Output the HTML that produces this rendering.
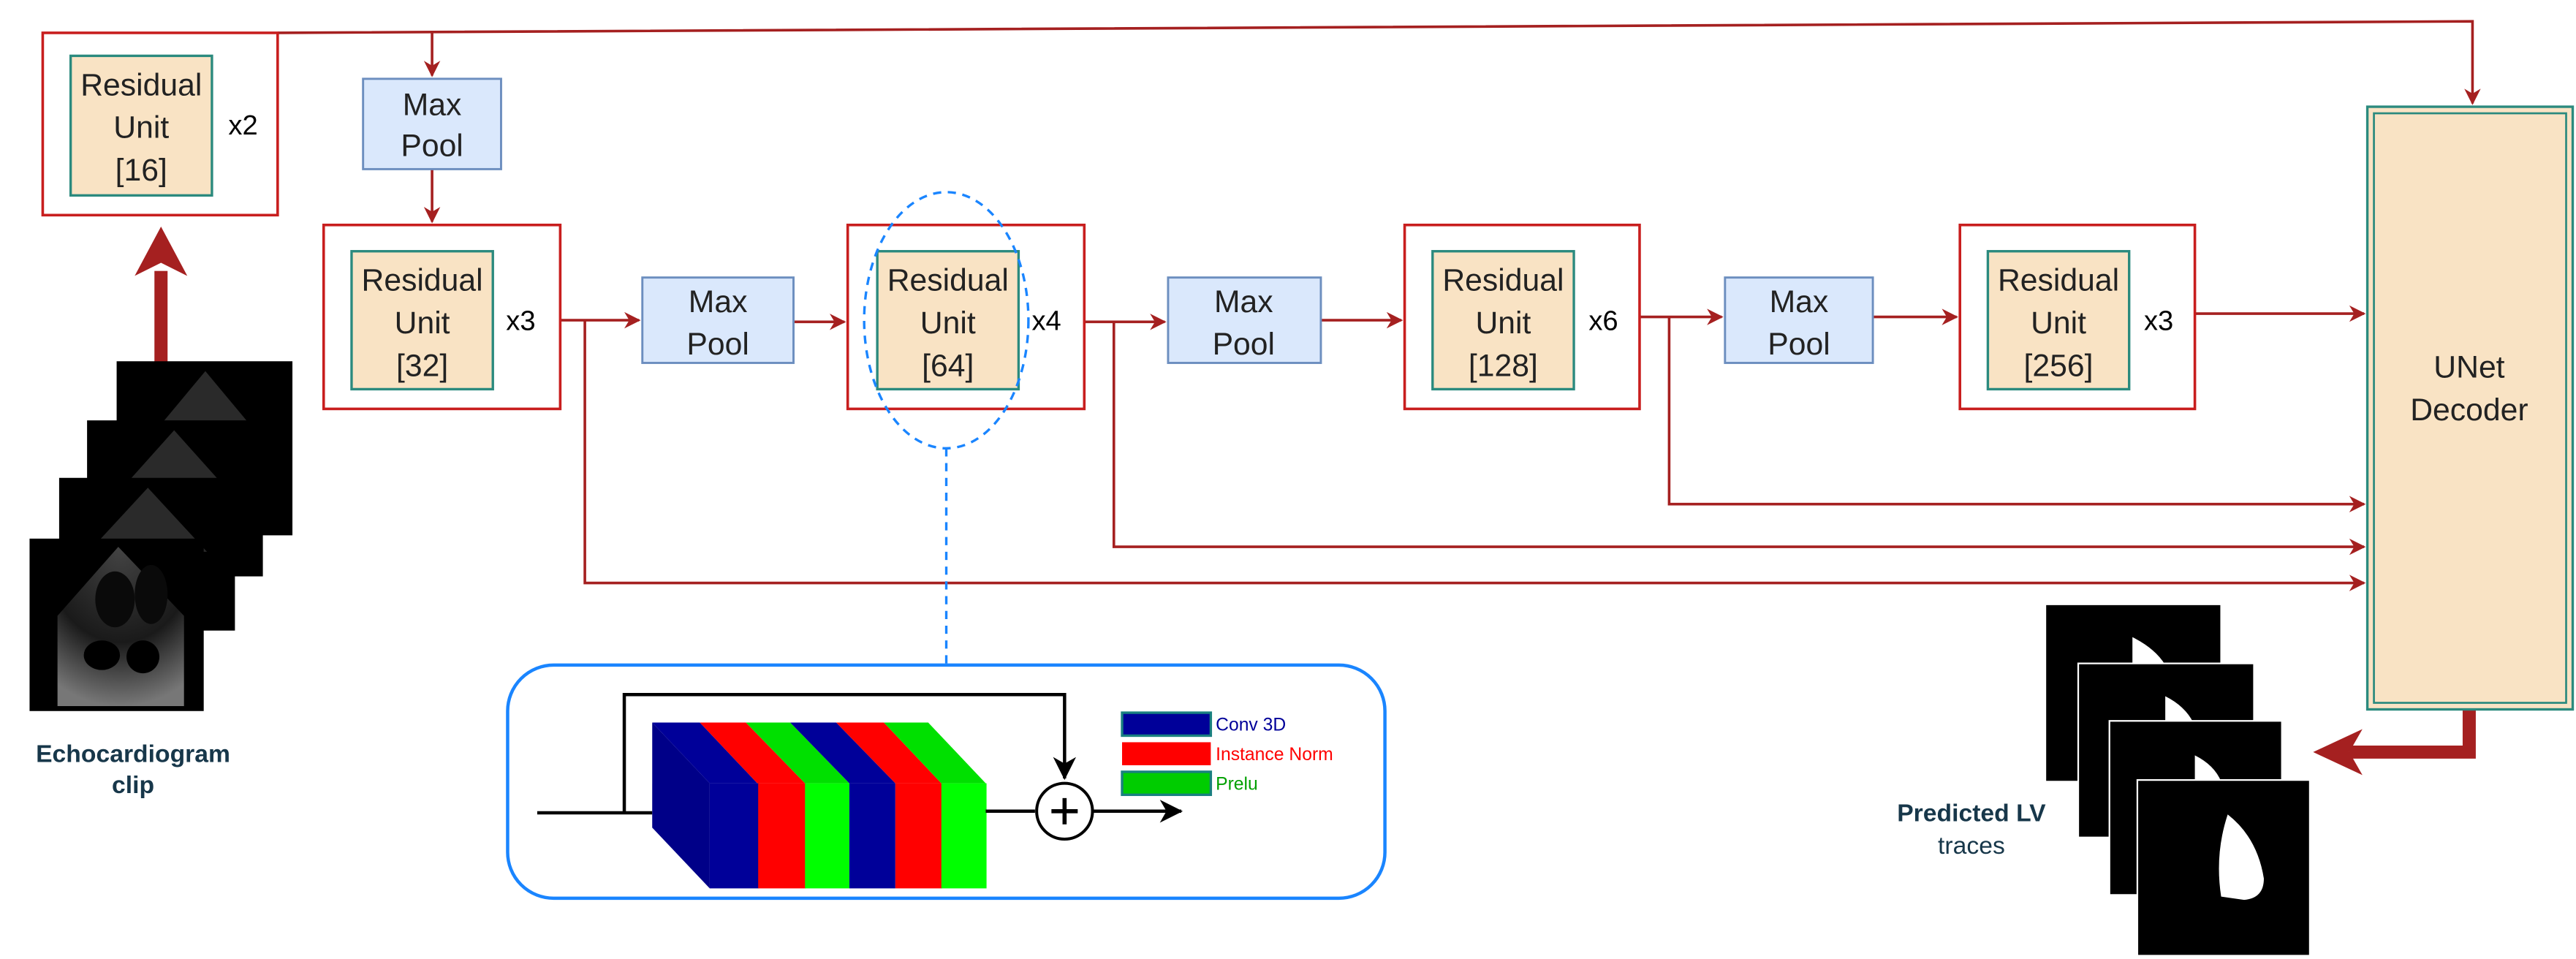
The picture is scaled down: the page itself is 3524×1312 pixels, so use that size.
<!DOCTYPE html>
<html><head><meta charset="utf-8"><style>
html,body{margin:0;padding:0;background:#fff;}
svg{display:block;}
text{font-family:"Liberation Sans",sans-serif;}
</style></head><body>
<svg width="3524" height="1312" viewBox="0 0 1568 584" preserveAspectRatio="none" xmlns="http://www.w3.org/2000/svg">
<defs>
<marker id="ar" markerWidth="10" markerHeight="10" refX="9" refY="5" orient="auto" markerUnits="userSpaceOnUse"><path d="M0,0 L10,5 L0,10 L3,5 Z" fill="#a52020"/></marker>
<marker id="ak" markerWidth="14" markerHeight="14" refX="13" refY="7" orient="auto" markerUnits="userSpaceOnUse"><path d="M0,0 L14,7 L0,14 L4,7 Z" fill="#000"/></marker>
<radialGradient id="fan" cx="0.5" cy="0" r="1"><stop offset="0" stop-color="#444"/><stop offset="0.6" stop-color="#1a1a1a"/><stop offset="1" stop-color="#777"/></radialGradient>
</defs>
<g stroke="#a52020" stroke-width="1.6" fill="none">
<polyline points="169,20 1505,13 1505,63" marker-end="url(#ar)"/>
<polyline points="263,20 263,46" marker-end="url(#ar)"/>
<polyline points="263,103 263,135" marker-end="url(#ar)"/>
<polyline points="341,195 389,195" marker-end="url(#ar)"/>
<polyline points="356,195 356,355 1439,355" marker-end="url(#ar)"/>
<polyline points="483,196 514,196" marker-end="url(#ar)"/>
<polyline points="660,196 709,196" marker-end="url(#ar)"/>
<polyline points="678,196 678,333 1439,333" marker-end="url(#ar)"/>
<polyline points="804,195 853,195" marker-end="url(#ar)"/>
<polyline points="998,193 1048,193" marker-end="url(#ar)"/>
<polyline points="1016,193 1016,307 1439,307" marker-end="url(#ar)"/>
<polyline points="1140,193 1191,193" marker-end="url(#ar)"/>
<polyline points="1336,191 1439,191" marker-end="url(#ar)"/>
</g>
<rect x="94" y="165" width="8" height="56" fill="#a52020"/>
<path d="M82,168 L98,138 L114,168 L98,160 Z" fill="#a52020"/>
<polyline points="1503,432 1503,458 1430,458" stroke="#a52020" stroke-width="8" fill="none"/>
<path d="M1438,444 L1408,458 L1438,472 L1430,458 Z" fill="#a52020"/>
<g fill="none" stroke="#c81e1e" stroke-width="1.6">
<rect x="26" y="20" width="143" height="111"/>
<rect x="197" y="137" width="144" height="112"/>
<rect x="516" y="137" width="144" height="112"/>
<rect x="855" y="137" width="143" height="112"/>
<rect x="1193" y="137" width="143" height="112"/>
</g>
<g fill="#f9e3c4" stroke="#2b8a7e" stroke-width="1.5">
<rect x="43" y="34" width="86" height="85"/>
<rect x="214" y="153" width="86" height="84"/>
<rect x="534" y="153" width="86" height="84"/>
<rect x="872" y="153" width="86" height="84"/>
<rect x="1210" y="153" width="86" height="84"/>
</g>
<g font-size="19" fill="#222" text-anchor="middle">
<text x="86" y="58">Residual</text><text x="86" y="84">Unit</text><text x="86" y="110">[16]</text>
<text x="257" y="177">Residual</text><text x="257" y="203">Unit</text><text x="257" y="229">[32]</text>
<text x="577" y="177">Residual</text><text x="577" y="203">Unit</text><text x="577" y="229">[64]</text>
<text x="915" y="177">Residual</text><text x="915" y="203">Unit</text><text x="915" y="229">[128]</text>
<text x="1253" y="177">Residual</text><text x="1253" y="203">Unit</text><text x="1253" y="229">[256]</text>
</g>
<g font-size="17" fill="#000" text-anchor="middle">
<text x="148" y="82">x2</text><text x="317" y="201">x3</text><text x="637" y="201">x4</text><text x="976" y="201">x6</text><text x="1314" y="201">x3</text>
</g>
<g fill="#dae8fc" stroke="#6c8ebf" stroke-width="1.3">
<rect x="221" y="48" width="84" height="55"/>
<rect x="391" y="169" width="92" height="52"/>
<rect x="711" y="169" width="93" height="52"/>
<rect x="1050" y="169" width="90" height="52"/>
</g>
<g font-size="19" fill="#222" text-anchor="middle">
<text x="263" y="70">Max</text><text x="263" y="95">Pool</text>
<text x="437" y="190">Max</text><text x="437" y="216">Pool</text>
<text x="757" y="190">Max</text><text x="757" y="216">Pool</text>
<text x="1095" y="190">Max</text><text x="1095" y="216">Pool</text>
</g>
<rect x="1441" y="65" width="125" height="367" fill="#f9e3c4" stroke="#2b8a7e" stroke-width="1.5"/>
<rect x="1445" y="69" width="117" height="359" fill="none" stroke="#2b8a7e" stroke-width="1.2"/>
<text x="1503" y="230" font-size="19" fill="#222" text-anchor="middle">UNet</text>
<text x="1503" y="256" font-size="19" fill="#222" text-anchor="middle">Decoder</text>
<ellipse cx="576" cy="195" rx="50" ry="78" fill="none" stroke="#1a85ff" stroke-width="1.5" stroke-dasharray="5,4"/>
<line x1="576" y1="273" x2="576" y2="405" stroke="#1a85ff" stroke-width="1.5" stroke-dasharray="5,4"/>
<rect x="309" y="405" width="534" height="142" rx="28" fill="#fff" stroke="#1a85ff" stroke-width="2"/>
<polyline points="327,495 397,495" stroke="#000" stroke-width="2" fill="none"/>
<polyline points="380,495 380,423 648,423 648,474" stroke="#000" stroke-width="2" fill="none" marker-end="url(#ak)"/>
<path d="M397,440 L432,477 L432,541 L397,504 Z" fill="#000088"/>
<path d="M397,440 L426,440 L461,477 L432,477 Z" fill="#000099"/>
<path d="M426,440 L454,440 L490,477 L461,477 Z" fill="#f00"/>
<path d="M454,440 L481,440 L517,477 L490,477 Z" fill="#00e000"/>
<path d="M481,440 L509,440 L545,477 L517,477 Z" fill="#000099"/>
<path d="M509,440 L538,440 L573,477 L545,477 Z" fill="#f00"/>
<path d="M538,440 L565,440 L600,477 L573,477 Z" fill="#00e000"/>
<rect x="432" y="477" width="30" height="64" fill="#000099"/>
<rect x="461.5" y="477" width="29" height="64" fill="#f00"/>
<rect x="490" y="477" width="27" height="64" fill="#00ff00"/>
<rect x="517" y="477" width="28" height="64" fill="#000099"/>
<rect x="545" y="477" width="28.5" height="64" fill="#f00"/>
<rect x="573" y="477" width="27.5" height="64" fill="#00ff00"/>
<line x1="600" y1="494" x2="630" y2="494" stroke="#000" stroke-width="2"/>
<circle cx="648" cy="494" r="17" fill="#fff" stroke="#000" stroke-width="1.8"/>
<line x1="640" y1="494" x2="656" y2="494" stroke="#000" stroke-width="2.5"/>
<line x1="648" y1="486" x2="648" y2="502" stroke="#000" stroke-width="2.5"/>
<line x1="665" y1="494" x2="719" y2="494" stroke="#000" stroke-width="2" marker-end="url(#ak)"/>
<rect x="683" y="434" width="54" height="14" fill="#000099" stroke="#1a8080" stroke-width="1.5"/>
<rect x="683" y="452" width="54" height="14" fill="#f00"/>
<rect x="683" y="470" width="54" height="14" fill="#00cc00" stroke="#1a8080" stroke-width="1.5"/>
<text x="740" y="445" font-size="11" fill="#000099">Conv 3D</text>
<text x="740" y="463" font-size="11" fill="#f00">Instance Norm</text>
<text x="740" y="481" font-size="11" fill="#00a000">Prelu</text>
<g>
<rect x="71" y="220" width="107" height="106" fill="#000"/>
<path d="M125,226 L95,262 L155,262 Z" fill="#2a2a2a"/>
<rect x="53" y="256" width="107" height="95" fill="#000"/>
<path d="M106,262 L72,300 L140,300 Z" fill="#2a2a2a"/>
<rect x="36" y="291" width="107" height="93" fill="#000"/>
<path d="M90,297 L54,336 L126,336 Z" fill="#2a2a2a"/>
<rect x="18" y="328" width="106" height="105" fill="#000"/>
<path d="M72,333 L35,375 L35,430 L112,430 L112,375 Z" fill="url(#fan)"/>
<ellipse cx="62" cy="399" rx="11" ry="9" fill="#000"/>
<ellipse cx="87" cy="400" rx="10" ry="10" fill="#000"/>
<ellipse cx="70" cy="365" rx="12" ry="17" fill="#0a0a0a"/>
<ellipse cx="92" cy="362" rx="10" ry="18" fill="#0a0a0a"/>
</g>
<text x="81" y="464" font-size="15" font-weight="bold" fill="#17374a" text-anchor="middle">Echocardiogram</text>
<text x="81" y="483" font-size="15" font-weight="bold" fill="#17374a" text-anchor="middle">clip</text>
<g stroke="#fff" stroke-width="1">
<rect x="1245" y="368" width="107" height="108" fill="#000"/>
<path d="M1298,388 Q1312,395 1318,405 L1298,405 Z" fill="#fff" stroke="none"/>
<rect x="1265" y="404" width="107" height="106" fill="#000"/>
<path d="M1318,424 Q1330,430 1335,440 L1318,440 Z" fill="#fff" stroke="none"/>
<rect x="1284" y="439" width="105" height="106" fill="#000"/>
<path d="M1336,460 Q1348,466 1352,476 L1336,476 Z" fill="#fff" stroke="none"/>
<rect x="1301" y="475" width="105" height="107" fill="#000"/>
<path d="M1356,496 Q1374,510 1378,535 Q1378,547 1366,548 L1352,546 Q1348,520 1356,496 Z" fill="#fff" stroke="none"/>
</g>
<text x="1200" y="500" font-size="15" font-weight="bold" fill="#17374a" text-anchor="middle">Predicted LV</text>
<text x="1200" y="520" font-size="15" fill="#17374a" text-anchor="middle">traces</text>
</svg>
</body></html>
